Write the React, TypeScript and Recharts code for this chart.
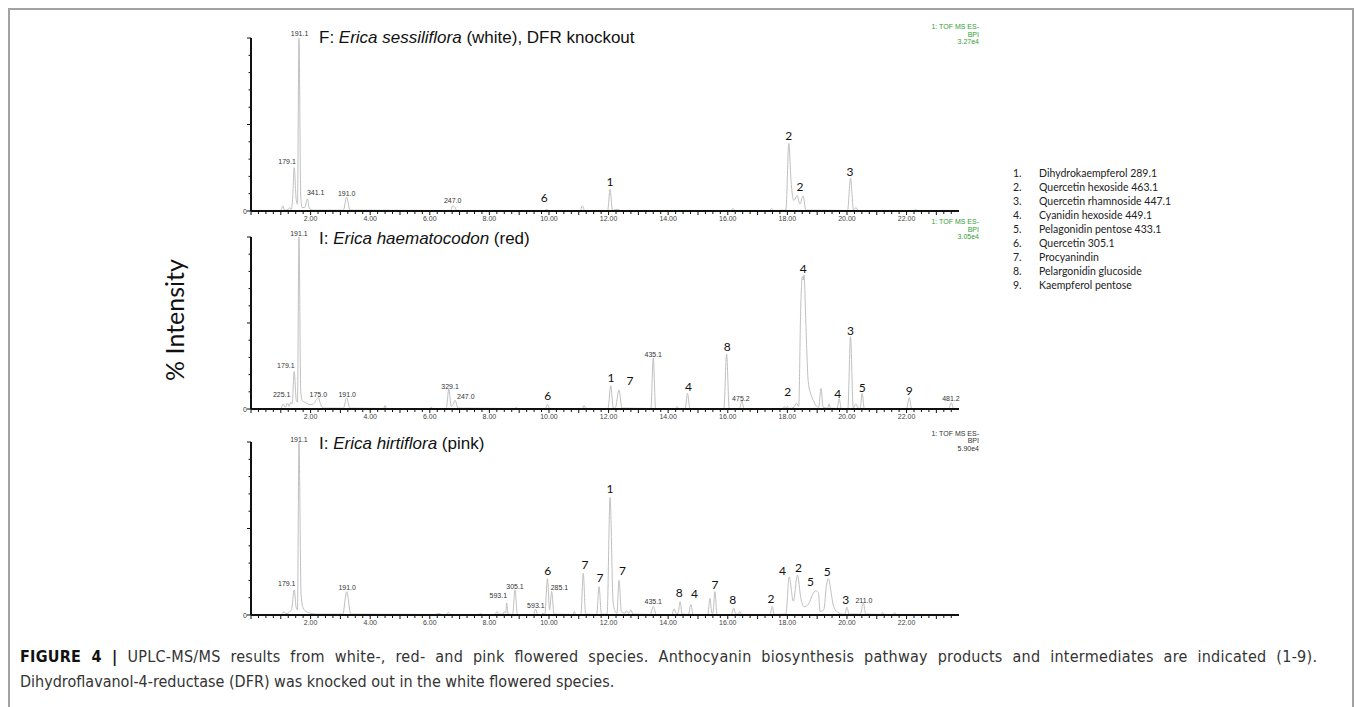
import React from "react";
import { ComposedChart, Line, ReferenceDot, XAxis, YAxis } from "recharts";

const TRACE_COLOR = "#c0c0c0";
const AXIS_COLOR = "#111111";
const HEADER_GREEN = "#2f9e35";
const SANS = "'Liberation Sans', Arial, sans-serif";
const SOFT = "Lato, 'Open Sans', sans-serif";
const CAPTION_FONT = "'Liberation Sans Narrow', 'DejaVu Sans Condensed', sans-serif";

// retention time (min), % intensity
const sessilifloraTrace: [number, number][] = [
  [0.05, 0.3], [1.0, 0.3], [1.07, 3], [1.13, 0.5], [1.25, 0.8], [1.3, 2], [1.35, 0.8], [1.4, 8],
  [1.45, 25], [1.52, 6], [1.56, 4], [1.61, 100], [1.67, 8], [1.72, 2], [1.8, 2], [1.89, 7],
  [1.96, 1.5], [2.1, 0.5], [3.1, 0.5], [3.21, 8], [3.32, 0.5], [6.7, 0.3], [6.77, 3], [6.85, 2],
  [6.9, 0.3], [9.85, 0.3], [9.92, 1], [10.0, 0.3], [11.05, 0.3], [11.12, 3], [11.2, 0.3],
  [11.97, 0.3], [12.05, 12.5], [12.13, 0.3], [12.3, 1], [12.4, 0.3], [16.1, 0.3], [16.18, 1.5],
  [16.25, 0.3], [17.4, 0.3], [17.47, 1.5], [17.54, 0.3], [17.95, 0.5], [18.05, 39], [18.12, 18],
  [18.22, 6], [18.33, 9], [18.42, 4], [18.53, 8.7], [18.62, 0.5], [20.02, 0.3], [20.12, 19],
  [20.22, 0.5], [20.3, 2], [20.38, 0.3], [22.25, 0.3], [22.3, 1], [22.35, 0.3], [23.76, 0.3],
];

const haematocodonTrace: [number, number][] = [
  [0.05, 0.3], [1.0, 0.3], [1.08, 3], [1.15, 1], [1.22, 3.5], [1.28, 1.5], [1.33, 4], [1.38, 3],
  [1.45, 21.7], [1.52, 5], [1.56, 4], [1.61, 100], [1.67, 10], [1.72, 5], [1.8, 4], [1.9, 3],
  [2.0, 2.5], [2.1, 3], [2.2, 5.5], [2.26, 6.6], [2.35, 2], [2.45, 0.5], [3.1, 0.5], [3.21, 6.5],
  [3.32, 0.5], [4.45, 0.3], [4.5, 2], [4.55, 0.3], [6.0, 0.3], [6.05, 1], [6.1, 0.3], [6.55, 0.3],
  [6.64, 11.6], [6.72, 1.5], [6.78, 2.5], [6.85, 5], [6.95, 0.5], [8.85, 0.3], [8.9, 1], [8.95, 0.3],
  [9.88, 0.3], [9.95, 2.7], [10.02, 0.3], [11.12, 0.3], [11.18, 2], [11.24, 0.3], [11.98, 0.3],
  [12.07, 13.5], [12.16, 0.5], [12.22, 0.3], [12.35, 11], [12.45, 0.5], [13.42, 0.3], [13.5, 29.5],
  [13.58, 0.3], [14.25, 0.3], [14.3, 1.5], [14.35, 0.3], [14.57, 0.3], [14.65, 9], [14.73, 0.3],
  [15.87, 0.3], [15.96, 32], [16.05, 0.3], [16.4, 0.3], [16.47, 4.7], [16.55, 0.3], [17.85, 0.3],
  [17.9, 1.5], [17.95, 0.3], [18.0, 1.5], [18.05, 0.3], [18.22, 1], [18.31, 3.3], [18.38, 1.5],
  [18.45, 60], [18.5, 77], [18.53, 75], [18.56, 78], [18.62, 50], [18.7, 16], [18.8, 8], [18.9, 4],
  [18.98, 1.5], [19.05, 1], [19.13, 12], [19.2, 1], [19.35, 0.5], [19.4, 3], [19.45, 0.5],
  [19.67, 0.3], [19.74, 6], [19.81, 0.3], [20.03, 0.3], [20.12, 42], [20.21, 0.5], [20.3, 3],
  [20.38, 0.5], [20.44, 0.3], [20.51, 9], [20.58, 0.3], [22.0, 0.3], [22.09, 6.6], [22.17, 0.3],
  [23.42, 0.3], [23.5, 3.7], [23.58, 0.3], [23.76, 0.3],
];

const hirtifloraTrace: [number, number][] = [
  [0.05, 0.3], [1.05, 0.3], [1.1, 2], [1.17, 0.8], [1.25, 1], [1.3, 2], [1.36, 3], [1.45, 14.5],
  [1.52, 4], [1.56, 3], [1.61, 100], [1.68, 12], [1.75, 4], [1.85, 2], [2.0, 1], [2.2, 0.5],
  [3.08, 0.5], [3.21, 13.5], [3.35, 0.5], [6.2, 0.3], [6.3, 1], [6.4, 0.3], [6.55, 0.3], [6.62, 1.5],
  [6.7, 0.3], [7.65, 0.3], [7.7, 0.8], [7.75, 0.3], [8.2, 0.3], [8.25, 2], [8.32, 0.5], [8.45, 0.5],
  [8.5, 2], [8.55, 1], [8.58, 7], [8.63, 0.5], [8.78, 0.3], [8.86, 14.5], [8.94, 0.3], [9.48, 0.3],
  [9.55, 3.3], [9.62, 0.3], [9.75, 0.3], [9.8, 1], [9.86, 0.3], [9.95, 21], [10.02, 3], [10.09, 13.5],
  [10.17, 0.5], [10.8, 0.3], [10.85, 2], [10.9, 0.3], [11.07, 0.3], [11.15, 24], [11.23, 0.5],
  [11.6, 0.3], [11.68, 16.4], [11.76, 0.5], [11.95, 0.5], [12.05, 68], [12.15, 8], [12.22, 2],
  [12.28, 1], [12.35, 20], [12.43, 2], [12.55, 1], [12.6, 2.5], [12.67, 1], [12.75, 3], [12.82, 0.5],
  [13.4, 0.3], [13.5, 5], [13.6, 0.3], [14.12, 0.3], [14.2, 3.5], [14.27, 1], [14.33, 1], [14.4, 7.7],
  [14.47, 0.5], [14.68, 0.3], [14.76, 6], [14.84, 0.3], [15.33, 0.3], [15.4, 9.6], [15.47, 1],
  [15.5, 1], [15.57, 13.5], [15.64, 0.3], [16.12, 0.3], [16.2, 4], [16.27, 0.5], [16.35, 0.5],
  [16.4, 2], [16.47, 0.3], [17.42, 0.3], [17.49, 5], [17.56, 0.3], [17.95, 0.5], [18.06, 22],
  [18.2, 8], [18.34, 23], [18.45, 10], [18.56, 4.8], [18.7, 6], [18.85, 12], [18.95, 14], [19.04, 13],
  [19.1, 2], [19.22, 3], [19.32, 18], [19.38, 21], [19.45, 15], [19.55, 5], [19.7, 1.5], [19.85, 0.5],
  [19.93, 0.5], [20.0, 4.5], [20.07, 0.5], [20.45, 0.5], [20.55, 7], [20.63, 0.5], [21.15, 0.3],
  [21.2, 1.5], [21.25, 0.3], [21.55, 0.3], [21.6, 1.5], [21.65, 0.3], [23.76, 0.3],
];

// peak annotations: [time, intensity at text baseline, text, compound number?]
type Mark = [number, number, string, boolean];

const sessilifloraMarks: Mark[] = [
  [1.63, 101.4, "191.1", false], [1.21, 27.2, "179.1", false], [2.17, 9.2, "341.1", false],
  [3.21, 8.4, "191.0", false], [6.77, 4.9, "247.0", false], [9.84, 5.2, "6", true],
  [12.05, 14.5, "1", true], [18.05, 41, "2", true], [18.42, 11.3, "2", true], [20.1, 20.2, "3", true],
];

const haematocodonMarks: Mark[] = [
  [1.61, 100.3, "191.1", false], [1.17, 23.8, "179.1", false], [1.03, 6.7, "225.1", false],
  [2.26, 7.1, "175.0", false], [3.23, 7.1, "191.0", false], [6.68, 11.6, "329.1", false],
  [7.21, 5.8, "247.0", false], [9.96, 5.5, "6", true], [12.08, 15.7, "1", true],
  [12.72, 14.2, "7", true], [13.5, 30.3, "435.1", false], [14.68, 10.2, "4", true],
  [15.98, 33.7, "8", true], [16.44, 4.8, "475.2", false], [18.01, 7.6, "2", true],
  [18.53, 79, "4", true], [19.69, 6.5, "4", true], [20.12, 43, "3", true], [20.51, 9.9, "5", true],
  [22.09, 8.4, "9", true], [23.49, 4.8, "481.2", false],
];

const hirtifloraMarks: Mark[] = [
  [1.61, 100.1, "191.1", false], [1.2, 16.9, "179.1", false], [3.23, 14.3, "191.0", false],
  [8.3, 10.1, "593.1", false], [8.86, 15.3, "305.1", false], [9.56, 4.3, "593.1", false],
  [9.96, 23.2, "6", true], [10.35, 14.3, "285.1", false], [11.21, 26.7, "7", true],
  [11.71, 19.1, "7", true], [12.05, 70.5, "1", true], [12.47, 23.2, "7", true],
  [13.5, 6.2, "435.1", false], [14.37, 10.4, "8", true], [14.88, 9.8, "4", true],
  [15.57, 15.1, "7", true], [16.17, 6.5, "8", true], [17.45, 6.9, "2", true], [17.84, 23.2, "4", true],
  [18.37, 24.9, "2", true], [18.78, 16.5, "5", true], [19.34, 22.8, "5", true],
  [19.96, 6.5, "3", true], [20.57, 7.2, "211.0", false],
];

const X_LABELS = [2, 4, 6, 8, 10, 12, 14, 16, 18, 20, 22];
const X_TICKS = Array.from({ length: 95 }, (_, i) => i * 0.25);
const Y_TICKS = [0, 10, 20, 30, 40, 50, 60, 70, 80, 90, 100];

const LEGEND = [
  "Dihydrokaempferol 289.1",
  "Quercetin hexoside 463.1",
  "Quercetin rhamnoside 447.1",
  "Cyanidin hexoside 449.1",
  "Pelagonidin pentose 433.1",
  "Quercetin 305.1",
  "Procyanindin",
  "Pelargonidin glucoside",
  "Kaempferol pentose",
];

const PLOT_LEFT = 251;
const PLOT_RIGHT = 959;
const CHART_W = 1000;
const PAD_TOP = 30;

function XTick(props: any) {
  const { x, y, payload } = props;
  const v = payload.value;
  const whole = Math.abs(v - Math.round(v)) < 1e-6;
  return (
    <g>
      <line x1={x} x2={x} y1={y} y2={y + (whole ? 4 : 3)} stroke={AXIS_COLOR} strokeWidth={1} />
      {X_LABELS.includes(v) ? (
        <text x={x} y={y + 9.5} textAnchor="middle" fontSize={7} fill="#444" fontFamily={SANS}>
          {v.toFixed(2)}
        </text>
      ) : null}
    </g>
  );
}

function YTick(props: any) {
  const { x, y, payload } = props;
  const v = payload.value;
  const major = v % 50 === 0;
  return (
    <g>
      <line x1={x - (major ? 4 : 2.5)} x2={x} y1={y} y2={y} stroke={AXIS_COLOR} strokeWidth={1} />
      {v === 0 ? (
        <text x={x - 4} y={y + 2.5} textAnchor="end" fontSize={7} fill="#333" fontFamily={SANS}>
          0
        </text>
      ) : null}
    </g>
  );
}

function MarkText({ cx = 0, cy = 0, text, big }: { cx?: number; cy?: number; text: string; big: boolean }) {
  return (
    <text
      x={cx}
      y={cy}
      textAnchor="middle"
      fontSize={big ? 12 : 7}
      fill={big ? "#111" : "#333"}
      fontFamily={big ? SOFT : SANS}
    >
      {text}
    </text>
  );
}

function Panel({
  trace,
  marks,
  plotTop,
  plotHeight,
}: {
  trace: [number, number][];
  marks: Mark[];
  plotTop: number;
  plotHeight: number;
}) {
  const data = trace.map(([t, v]) => ({ t, v }));
  return (
    <div style={{ position: "absolute", left: 0, top: plotTop - PAD_TOP }}>
      <ComposedChart
        width={CHART_W}
        height={PAD_TOP + plotHeight + 20}
        data={data}
        margin={{ top: PAD_TOP, right: CHART_W - PLOT_RIGHT, bottom: 0, left: PLOT_LEFT - 20 }}
      >
        <XAxis
          dataKey="t"
          type="number"
          domain={[0, 23.76]}
          ticks={X_TICKS}
          interval={0}
          allowDataOverflow
          height={20}
          tickSize={0}
          tickMargin={0}
          tickLine={false}
          axisLine={{ stroke: AXIS_COLOR, strokeWidth: 2 }}
          tick={<XTick />}
        />
        <YAxis
          type="number"
          domain={[0, 100]}
          ticks={Y_TICKS}
          interval={0}
          allowDataOverflow
          width={20}
          tickSize={0}
          tickMargin={0}
          tickLine={false}
          axisLine={{ stroke: AXIS_COLOR, strokeWidth: 2 }}
          tick={<YTick />}
        />
        <Line
          dataKey="v"
          type="monotone"
          stroke={TRACE_COLOR}
          strokeWidth={1}
          dot={false}
          isAnimationActive={false}
        />
        {marks.map(([t, v, text, big], i) => (
          <ReferenceDot
            key={i}
            x={t}
            y={v}
            ifOverflow="visible"
            shape={(p: any) => <MarkText cx={p.cx} cy={p.cy} text={text} big={big} />}
          />
        ))}
      </ComposedChart>
    </div>
  );
}

function Header({ right, top, lines, color }: { right: number; top: number; lines: string[]; color: string }) {
  return (
    <>
      {lines.map((s, i) => (
        <text key={i} x={right} y={top + i * 7.7} textAnchor="end" fontSize={7} fill={color} fontFamily={SANS}>
          {s}
        </text>
      ))}
    </>
  );
}

export default function App() {
  return (
    <div style={{ position: "absolute", left: 0, top: 0, width: 1355, height: 707, overflow: "hidden", background: "#fff" }}>
      <div
        style={{
          position: "absolute",
          left: 8,
          top: 8,
          width: 1342,
          height: 720,
          borderTop: "2px solid #a3a3a3",
          borderLeft: "2px solid #a3a3a3",
          borderRight: "2px solid #a3a3a3",
        }}
      />
      <Panel trace={sessilifloraTrace} marks={sessilifloraMarks} plotTop={38} plotHeight={173} />
      <Panel trace={haematocodonTrace} marks={haematocodonMarks} plotTop={237} plotHeight={172} />
      <Panel trace={hirtifloraTrace} marks={hirtifloraMarks} plotTop={442} plotHeight={173} />
      <svg
        width={1355}
        height={707}
        style={{ position: "absolute", left: 0, top: 0, pointerEvents: "none" }}
      >
        <text x={319} y={42.5} fontSize={17} fill="#111" fontFamily={SANS}>
          F: <tspan fontStyle="italic">Erica sessiliflora</tspan> (white), DFR knockout
        </text>
        <text x={319} y={243.5} fontSize={17} fill="#111" fontFamily={SANS}>
          I: <tspan fontStyle="italic">Erica haematocodon</tspan> (red)
        </text>
        <text x={319} y={449} fontSize={17} fill="#111" fontFamily={SANS}>
          I: <tspan fontStyle="italic">Erica hirtiflora</tspan> (pink)
        </text>

        <Header right={979} top={29} lines={["1: TOF MS ES-", "BPI", "3.27e4"]} color={HEADER_GREEN} />
        <Header right={979} top={224} lines={["1: TOF MS ES-", "BPI", "3.05e4"]} color={HEADER_GREEN} />
        <Header right={979} top={435.5} lines={["1: TOF MS ES-", "BPI", "5.90e4"]} color="#333" />

        <text
          x={0}
          y={0}
          transform="translate(184 320) rotate(-90)"
          textAnchor="middle"
          fontSize={25}
          fill="#111"
          fontFamily={SOFT}
        >
          % Intensity
        </text>

        {LEGEND.map((name, i) => (
          <g key={name}>
            <text x={1013} y={177 + i * 14} fontSize={10.5} fill="#222" fontFamily={SOFT}>
              {i + 1}.
            </text>
            <text x={1039} y={177 + i * 14} fontSize={10.5} fill="#222" fontFamily={SOFT}>
              {name}
            </text>
          </g>
        ))}

        <text
          x={20}
          y={662}
          fontSize={16}
          fill="#333"
          fontFamily={CAPTION_FONT}
          wordSpacing={5}
          textLength={1297}
          lengthAdjust="spacing"
        >
          <tspan fontWeight="bold" fill="#111">FIGURE 4 |</tspan> UPLC-MS/MS results from white-, red- and pink flowered species. Anthocyanin biosynthesis pathway products and intermediates are indicated (1-9).
        </text>
        <text x={20} y={687} fontSize={16} fill="#333" fontFamily={CAPTION_FONT}>
          Dihydroflavanol-4-reductase (DFR) was knocked out in the white flowered species.
        </text>
      </svg>
    </div>
  );
}
